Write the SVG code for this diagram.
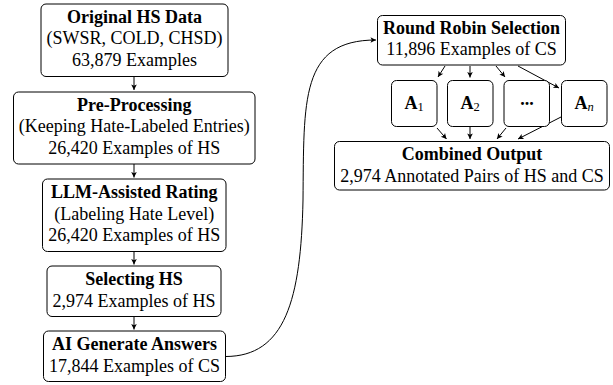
<svg xmlns="http://www.w3.org/2000/svg" width="613" height="385" viewBox="0 0 613 385">
<style>
  .box { fill: #ffffff; stroke: #000000; stroke-width: 1; }
  .t { font-family: "Liberation Serif", "Times New Roman", serif; font-size: 18px; fill: #000000; text-anchor: middle; }
  .b { font-weight: bold; }
  .a { font-family: "Liberation Serif", "Times New Roman", serif; font-size: 18px; font-weight: bold; fill: #000000; text-anchor: middle; }
  .sub { font-size: 12.5px; font-weight: normal; }
  .edge { fill: none; stroke: #000000; stroke-width: 1; marker-end: url(#arr); }
</style>
<defs>
  <marker id="arr" markerUnits="userSpaceOnUse" markerWidth="10" markerHeight="10" viewBox="-6 -5 10 10" refX="0" refY="0" orient="auto">
    <path d="M0,0 L-5.5,-2.8 L-4.2,0 L-5.5,2.8 Z" fill="#000000" stroke="none"/>
  </marker>
</defs>
<rect width="613" height="385" fill="#ffffff"/>

<g id="connectors">
  <line class="edge" x1="134" y1="76.5" x2="134" y2="90"/>
  <line class="edge" x1="134" y1="164" x2="134" y2="177.5"/>
  <line class="edge" x1="134" y1="251.5" x2="134" y2="264.5"/>
  <line class="edge" x1="134" y1="316.5" x2="134" y2="329.5"/>
  <path class="edge" d="M225.5,356.5 C285,356.5 301,300 303,200 C304,100 300,40 376,40"/>
  <line class="edge" x1="445" y1="66" x2="438" y2="77"/>
  <line class="edge" x1="470" y1="66" x2="470" y2="77.5"/>
  <line class="edge" x1="496" y1="66" x2="505" y2="77"/>
  <line class="edge" x1="518" y1="66" x2="559" y2="88"/>
  <line class="edge" x1="437" y1="128" x2="446.5" y2="139"/>
  <line class="edge" x1="470" y1="127" x2="470" y2="139"/>
  <line class="edge" x1="506" y1="128" x2="497" y2="139"/>
  <line class="edge" x1="561" y1="117" x2="518" y2="139"/>
</g>

<g id="original">
  <rect class="box" x="41" y="4" width="187" height="72.5" rx="5"/>
  <text class="t b" x="134.5" y="22.5">Original HS Data</text>
  <text class="t" x="134.5" y="44.2">(SWSR, COLD, CHSD)</text>
  <text class="t" x="134.5" y="66">63,879 Examples</text>
</g>

<g id="preprocessing">
  <rect class="box" x="13.5" y="92" width="241.5" height="72" rx="5"/>
  <text class="t b" x="134.25" y="110.5">Pre-Processing</text>
  <text class="t" x="134.25" y="132.2">(Keeping Hate-Labeled Entries)</text>
  <text class="t" x="134.25" y="154">26,420 Examples of HS</text>
</g>

<g id="llm-rating">
  <rect class="box" x="42.5" y="179" width="183.5" height="72.5" rx="5"/>
  <text class="t b" x="134.25" y="197.5">LLM-Assisted Rating</text>
  <text class="t" x="134.25" y="219.7">(Labeling Hate Level)</text>
  <text class="t" x="134.25" y="241.4">26,420 Examples of HS</text>
</g>

<g id="selecting">
  <rect class="box" x="47" y="266" width="174" height="50.5" rx="5"/>
  <text class="t b" x="134" y="285">Selecting HS</text>
  <text class="t" x="134" y="306.7">2,974 Examples of HS</text>
</g>

<g id="generate">
  <rect class="box" x="43.5" y="331" width="182" height="50.5" rx="5"/>
  <text class="t b" x="134.5" y="350">AI Generate Answers</text>
  <text class="t" x="134.5" y="371.7">17,844 Examples of CS</text>
</g>

<g id="round-robin">
  <rect class="box" x="377.5" y="15.5" width="188" height="49.5" rx="5"/>
  <text class="t b" x="471.5" y="33.5">Round Robin Selection</text>
  <text class="t" x="471.5" y="55">11,896 Examples of CS</text>
</g>

<g id="a1">
  <rect class="box" x="391.5" y="80.5" width="45.5" height="46" rx="5"/>
  <text class="a" x="414" y="109">A<tspan class="sub" dy="2">1</tspan></text>
</g>

<g id="a2">
  <rect class="box" x="447.5" y="80.5" width="45.5" height="46" rx="5"/>
  <text class="a" x="470" y="109">A<tspan class="sub" dy="2">2</tspan></text>
</g>

<g id="adots">
  <rect class="box" x="504" y="80.5" width="45.5" height="46" rx="5"/>
  <text class="a" x="527" y="104.5">...</text>
</g>

<g id="an">
  <rect class="box" x="561.5" y="80.5" width="45.5" height="46" rx="5"/>
  <text class="a" x="584" y="109">A<tspan class="sub" dy="2" font-style="italic" font-size="14px">n</tspan></text>
</g>

<g id="combined">
  <rect class="box" x="334.5" y="141.5" width="275" height="48.5" rx="5"/>
  <text class="t b" x="472" y="160">Combined Output</text>
  <text class="t" x="472" y="182">2,974 Annotated Pairs of HS and CS</text>
</g>
</svg>
